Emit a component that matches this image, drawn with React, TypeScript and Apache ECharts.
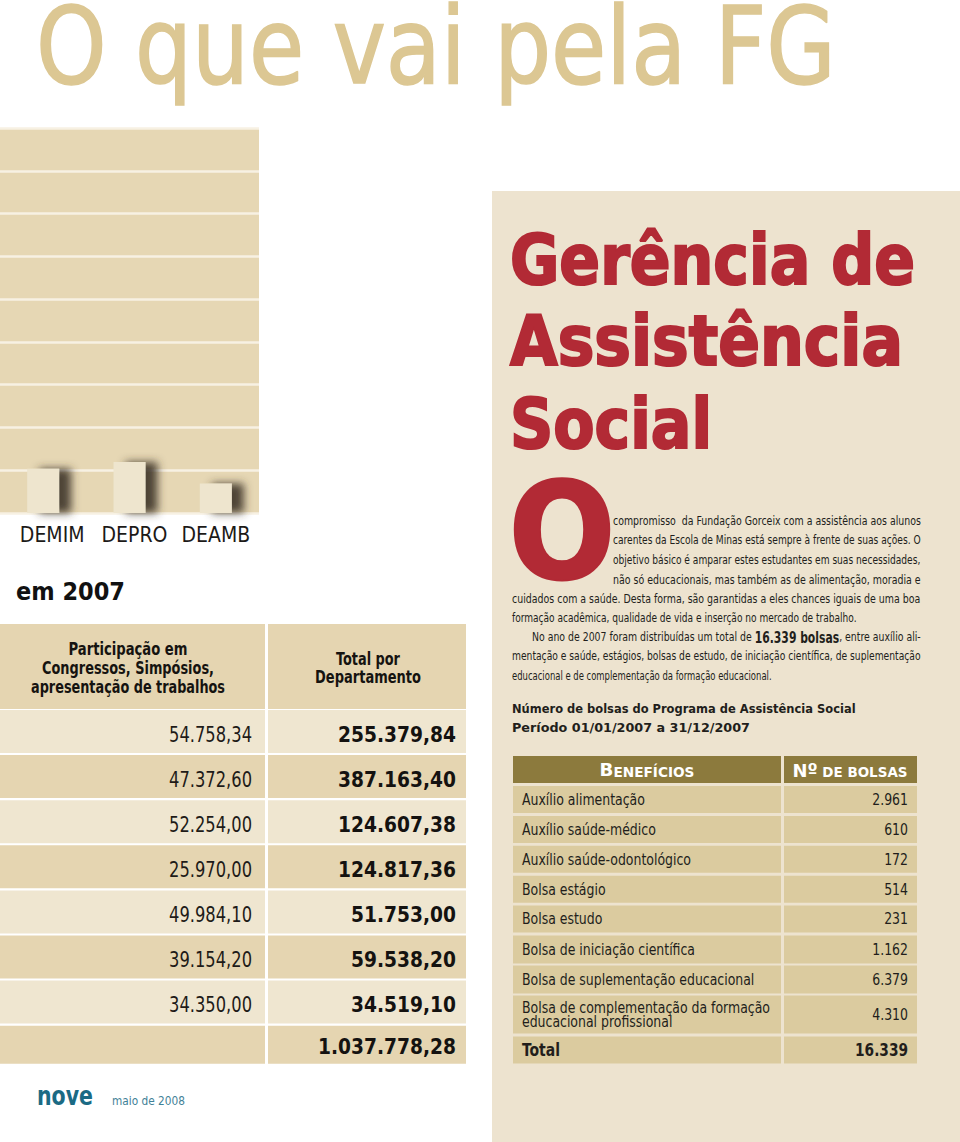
import React, { useEffect, useRef } from 'react';
import * as echarts from 'echarts';

// ---------- data ----------
const departments = ['DEMIM', 'DEPRO', 'DEAMB'];
const departmentTotals = [51753.0, 59538.2, 34519.1];
const yMax = 450000;
const yInterval = 50000;

const participacao = ['54.758,34', '47.372,60', '52.254,00', '25.970,00', '49.984,10', '39.154,20', '34.350,00'];
const totalPorDepartamento = ['255.379,84', '387.163,40', '124.607,38', '124.817,36', '51.753,00', '59.538,20', '34.519,10'];
const totalGeral = '1.037.778,28';

const beneficios = [
  'Auxílio alimentação',
  'Auxílio saúde-médico',
  'Auxílio saúde-odontológico',
  'Bolsa estágio',
  'Bolsa estudo',
  'Bolsa de iniciação científica',
  'Bolsa de suplementação educacional',
  'Bolsa de complementação da formação|educacional profissional',
];
const numeroBolsas = ['2.961', '610', '172', '514', '231', '1.162', '6.379', '4.310'];
const totalBolsas = '16.339';

const paragraphLines = [
  'compromisso  da Fundação Gorceix com a assistência aos alunos',
  'carentes da Escola de Minas está sempre à frente de suas ações. O',
  'objetivo básico é amparar estes estudantes em suas necessidades,',
  'não só educacionais, mas também as de alimentação, moradia e',
  'cuidados com a saúde. Desta forma, são garantidas a eles chances iguais de uma boa',
  'formação acadêmica, qualidade de vida e inserção no mercado de trabalho.',
  '',
  'mentação e saúde, estágios, bolsas de estudo, de iniciação científica, de suplementação',
  'educacional e de complementação da formação educacional.',
];

// ---------- style ----------
const COND = '"DejaVu Sans Condensed", "Liberation Sans Narrow", "DejaVu Sans", sans-serif';
const HEAVY = '"DejaVu Sans", sans-serif';
const RED = '#b22a35';
const TAN = '#dcc793';
const PANEL_R = '#ede3cf';
const TBL_DARK = '#e5d5b1';
const TBL_LIGHT = '#efe6d0';
const BEN_ROW = '#dbcb9f';
const BEN_HEAD = '#8c7a3d';
const INK = '#221e1b';

function buildOption() {
  const ctx = document.createElement('canvas').getContext('2d') as CanvasRenderingContext2D;
  const measure = (t: string, size: number, weight: string | number, family: string) => {
    ctx.font = `${weight} ${size}px ${family}`;
    return ctx.measureText(t).width;
  };

  const txt = (text: string, x: number, y: number, o: any) => {
    const size = o.size;
    const weight = o.weight ?? 'normal';
    const family = o.family ?? COND;
    let sx = o.sx ?? 1;
    if (o.w) sx = o.w / measure(text, size, weight, family);
    const align = o.align ?? 'left';
    const style: any = {
      text,
      fontSize: size,
      fontWeight: weight,
      fontFamily: family,
      fill: o.color ?? INK,
      align,
      textAlign: align,
      verticalAlign: 'middle',
      textVerticalAlign: 'middle',
    };
    if (o.stroke) {
      style.stroke = o.color;
      style.lineWidth = o.stroke;
    }
    return { type: 'text', x, y, scaleX: sx, z: 10, silent: true, style };
  };

  const richTxt = (segs: { t: string; key: string }[], rich: any, x: number, y: number, o: any) => {
    let natural = 0;
    segs.forEach((s) => {
      const r = rich[s.key];
      natural += measure(s.t, r.fontSize, r.fontWeight ?? 'normal', r.fontFamily);
    });
    const sx = o.w ? o.w / natural : 1;
    const align = o.align ?? 'left';
    return {
      type: 'text',
      x,
      y,
      scaleX: sx,
      z: 10,
      silent: true,
      style: {
        text: segs.map((s) => `{${s.key}|${s.t}}`).join(''),
        rich,
        align,
        textAlign: align,
        verticalAlign: 'middle',
        textVerticalAlign: 'middle',
      },
    };
  };

  const rect = (x: number, y: number, w: number, h: number, fill: string) => ({
    type: 'rect',
    z: 1,
    silent: true,
    shape: { x, y, width: w, height: h },
    style: { fill },
  });

  const els: any[] = [];

  // right panel
  els.push(rect(492, 191, 468, 951, PANEL_R));

  // big title
  els.push(txt('O que vai pela FG', 36, 46, { size: 106, w: 800, color: TAN, family: COND, stroke: 1.5 }));

  // red heading
  els.push(txt('Gerência de', 510, 259, { size: 70, weight: 'bold', family: HEAVY, w: 405, color: RED, stroke: 2.2 }));
  els.push(txt('Assistência', 510, 341, { size: 70, weight: 'bold', family: HEAVY, w: 393, color: RED, stroke: 2.2 }));
  els.push(txt('Social', 510, 423, { size: 70, weight: 'bold', family: HEAVY, w: 202, color: RED, stroke: 2.2 }));

  // drop cap
  els.push(txt('O', 509, 532, { size: 134, weight: 'bold', family: HEAVY, w: 106, color: RED, stroke: 3 }));

  // paragraph
  const paraX = [613, 613, 613, 613, 512, 512, 532, 512, 512];
  const paraY = [521, 540, 560, 580, 599, 618, 637, 656, 675];
  const paraW = [308, 308, 308, 308, 409, 345, 389, 409, 260];
  paragraphLines.forEach((line, i) => {
    if (i === 6) return;
    els.push(txt(line, paraX[i], paraY[i], { size: 13, w: paraW[i], color: INK }));
  });
  const paraRich = {
    n: { fontSize: 13, fontFamily: COND, fill: INK, fontWeight: 'normal' },
    b: { fontSize: 15, fontFamily: COND, fill: INK, fontWeight: 'bold' },
  };
  els.push(
    richTxt(
      [
        { t: 'No ano de 2007 foram distribuídas um total de ', key: 'n' },
        { t: '16.339 bolsas', key: 'b' },
        { t: ', entre auxílio ali-', key: 'n' },
      ],
      paraRich,
      paraX[6],
      paraY[6],
      { w: paraW[6] }
    )
  );

  // table subtitle
  els.push(txt('Número de bolsas do Programa de Assistência Social', 512, 709, { size: 13, weight: 'bold', family: HEAVY, w: 344 }));
  els.push(txt('Período 01/01/2007 a 31/12/2007', 512, 727, { size: 13, weight: 'bold', family: HEAVY, w: 238 }));

  // benefícios table
  els.push(rect(513, 756, 268, 27, BEN_HEAD));
  els.push(rect(784, 756, 133, 27, BEN_HEAD));
  const headRich = {
    a: { fontSize: 18, fontWeight: 'bold', fontFamily: COND, fill: '#ffffff', verticalAlign: 'bottom' },
    s: { fontSize: 13.5, fontWeight: 'bold', fontFamily: COND, fill: '#ffffff', verticalAlign: 'bottom' },
  };
  els.push(richTxt([{ t: 'B', key: 'a' }, { t: 'ENEFÍCIOS', key: 's' }], headRich, 647, 770, { w: 95, align: 'center' }));
  els.push(richTxt([{ t: 'Nº', key: 'a' }, { t: ' DE BOLSAS', key: 's' }], headRich, 850, 770, { w: 115, align: 'center' }));

  const benScale = 123 / measure(beneficios[0], 16, 'normal', COND);
  const benTops = [786, 815.9, 845.8, 875.7, 905.6, 935.5, 965.4, 995.5];
  const benH = [27, 27, 27, 27, 27, 28, 28, 38];
  beneficios.forEach((name, i) => {
    const top = benTops[i];
    const h = benH[i];
    els.push(rect(513, top, 268, h, BEN_ROW));
    els.push(rect(784, top, 133, h, BEN_ROW));
    const cy = top + h / 2;
    const parts = name.split('|');
    if (parts.length === 1) {
      els.push(txt(parts[0], 522, cy, { size: 16, sx: benScale }));
    } else {
      els.push(txt(parts[0], 522, cy - 7, { size: 16, sx: benScale }));
      els.push(txt(parts[1], 522, cy + 7, { size: 16, sx: benScale }));
    }
    els.push(txt(numeroBolsas[i], 908, cy, { size: 16, sx: benScale, align: 'right' }));
  });
  els.push(rect(513, 1036.5, 268, 27, BEN_ROW));
  els.push(rect(784, 1036.5, 133, 27, BEN_ROW));
  els.push(txt('Total', 522, 1050, { size: 17, weight: 'bold', w: 38 }));
  els.push(txt(totalBolsas, 908, 1050, { size: 17, weight: 'bold', w: 53, align: 'right' }));

  // em 2007
  els.push(txt('em 2007', 16, 591, { size: 24, weight: 'bold', family: HEAVY, w: 109, color: '#111111' }));

  // left table
  els.push(rect(0, 624, 265, 85, TBL_DARK));
  els.push(rect(268, 624, 198, 85, TBL_DARK));
  const hdr = { size: 17, weight: 'bold', align: 'center', color: '#151310' };
  els.push(txt('Participação em', 128, 649, { ...hdr, w: 119 }));
  els.push(txt('Congressos, Simpósios,', 128, 668, { ...hdr, w: 172 }));
  els.push(txt('apresentação de trabalhos', 128, 687, { ...hdr, w: 194 }));
  els.push(txt('Total por', 368, 659, { ...hdr, w: 64 }));
  els.push(txt('Departamento', 368, 677, { ...hdr, w: 106 }));

  const valScale = 83 / measure(participacao[0], 22, 'normal', COND);
  const totScale = 118 / measure(totalPorDepartamento[0], 22, 'bold', COND);
  for (let i = 0; i < 8; i++) {
    const top = 710 + i * 45.1;
    const h = i === 7 ? 38 : 43;
    const fill = i % 2 === 0 ? TBL_LIGHT : TBL_DARK;
    els.push(rect(0, top, 265, h, fill));
    els.push(rect(268, top, 198, h, fill));
    const cy = top + (i === 7 ? 21 : 24);
    if (i < 7) {
      els.push(txt(participacao[i], 252, cy, { size: 22, sx: valScale, align: 'right', color: '#1e1b18' }));
      els.push(txt(totalPorDepartamento[i], 456, cy, { size: 22, weight: 'bold', sx: totScale, align: 'right', color: '#141210' }));
    } else {
      els.push(txt(totalGeral, 456, cy, { size: 22, weight: 'bold', sx: totScale, align: 'right', color: '#141210' }));
    }
  }

  // footer
  els.push(txt('nove', 37, 1096, { size: 26, weight: 'bold', family: HEAVY, w: 56, color: '#1b6a84' }));
  els.push(txt('maio de 2008', 112, 1101, { size: 12, family: HEAVY, w: 73, color: '#3f8197' }));

  const labelBase = { fontSize: 21, fontFamily: COND, color: '#1c1a18' };

  return {
    animation: false,
    backgroundColor: '#ffffff',
    grid: {
      left: 0,
      top: 128,
      width: 259,
      height: 385,
      show: true,
      backgroundColor: '#e6d7b4',
      borderWidth: 0,
      containLabel: false,
      outerBoundsMode: 'none',
    },
    xAxis: {
      type: 'category',
      data: departments,
      axisLine: { show: false },
      axisTick: { show: false },
      axisLabel: {
        interval: 0,
        hideOverlap: false,
        margin: 11,
        ...labelBase,
        formatter: (v: string) => `{${v}|${v}}`,
        rich: {
          DEMIM: { ...labelBase, padding: [0, 0, 0, 18] },
          DEPRO: { ...labelBase, padding: [0, 0, 0, 10] },
          DEAMB: { ...labelBase, padding: [0, 0, 0, 0] },
        },
      },
    },
    yAxis: {
      type: 'value',
      min: 0,
      max: yMax,
      interval: yInterval,
      axisLabel: { show: false },
      axisLine: { show: false },
      axisTick: { show: false },
      splitLine: { show: true, lineStyle: { color: '#f7f1e3', width: 2.5 } },
    },
    series: [
      {
        type: 'bar',
        data: departmentTotals,
        barWidth: 32,
        itemStyle: {
          color: '#eee5ce',
          shadowColor: 'rgba(60,52,40,0.9)',
          shadowBlur: 8,
          shadowOffsetX: 12,
        },
      },
    ],
    graphic: { elements: els },
  };
}

export default function App() {
  const ref = useRef<HTMLDivElement>(null);
  useEffect(() => {
    if (!ref.current) return;
    const chart = echarts.init(ref.current, null, { renderer: 'svg' });
    chart.setOption(buildOption() as any);
    return () => chart.dispose();
  }, []);
  return <div ref={ref} style={{ position: 'absolute', left: 0, top: 0, width: 960, height: 1142 }} />;
}
